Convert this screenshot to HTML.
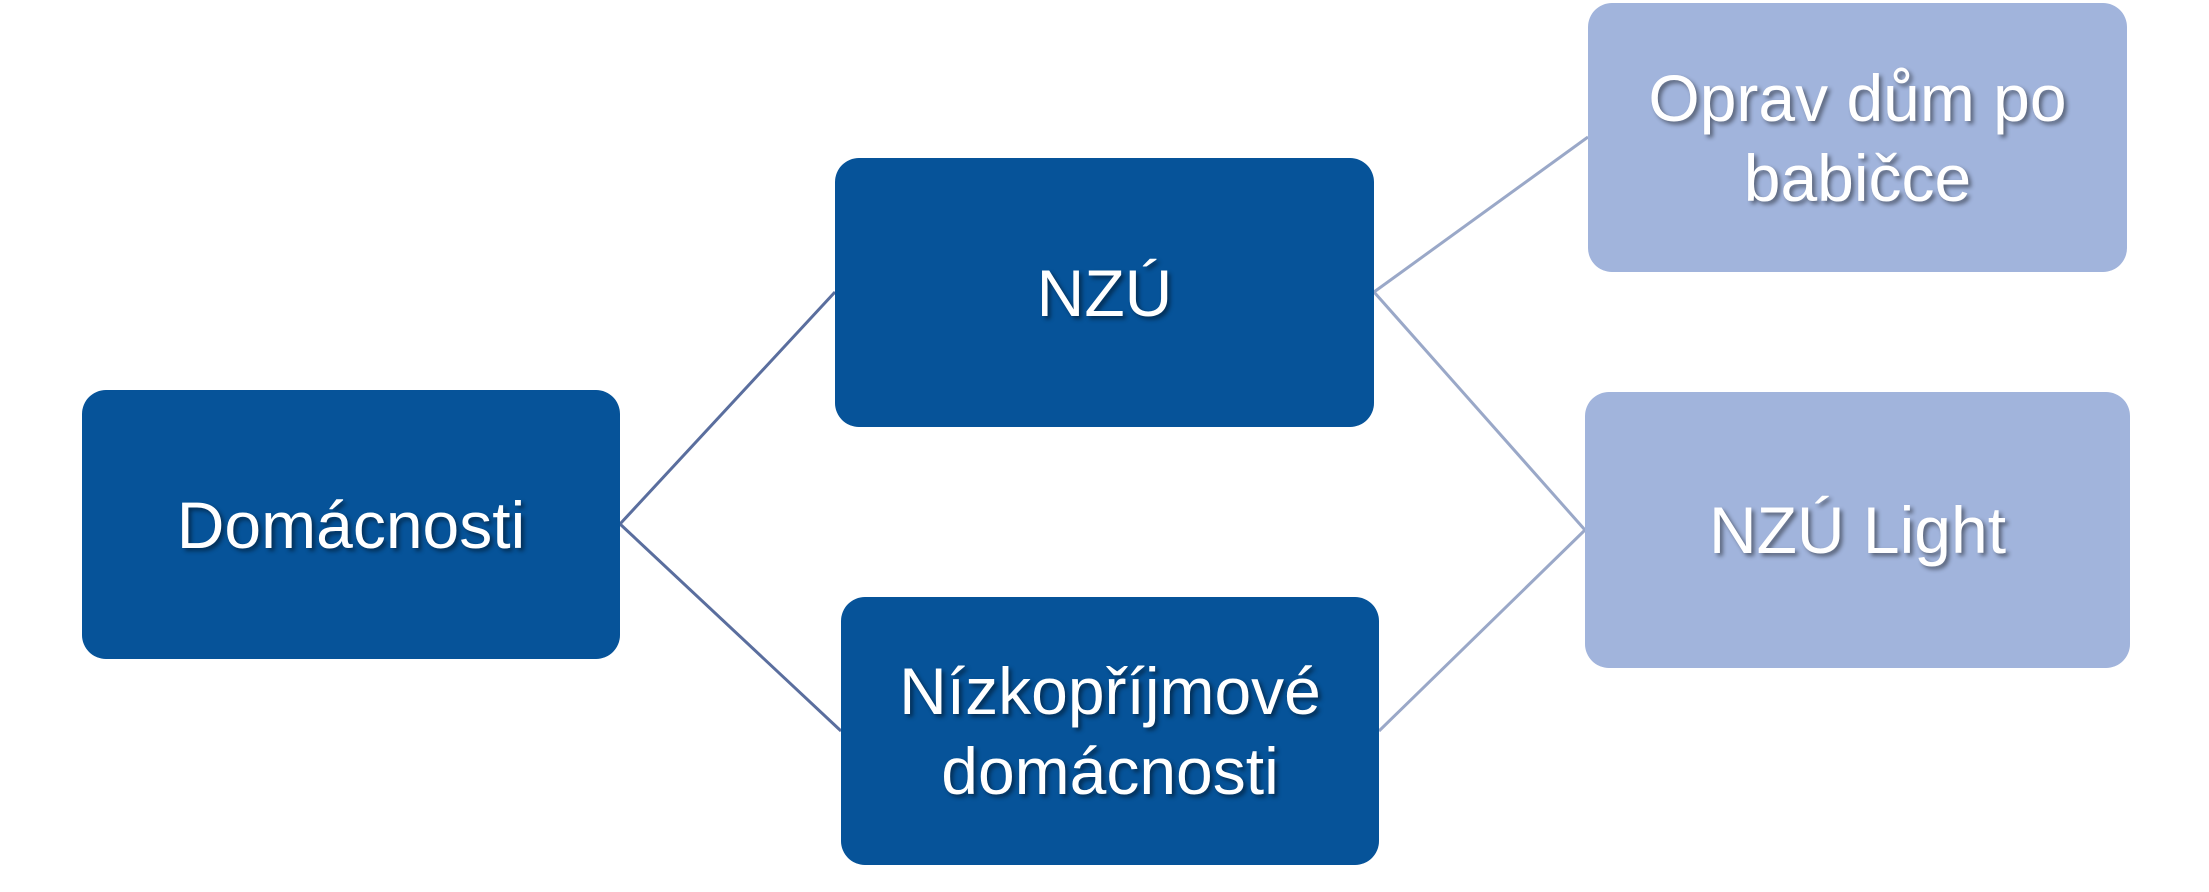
<!DOCTYPE html>
<html><head><meta charset="utf-8"><style>
body{margin:0;width:2209px;height:892px;background:#fff;position:relative;overflow:hidden;font-family:"Liberation Sans",sans-serif;}
.b{position:absolute;border-radius:24px;display:flex;align-items:center;justify-content:center;text-align:center;color:#fff;font-size:66px;line-height:80px;text-shadow:3px 3px 4px rgba(0,0,0,0.45);}
.d{background:#065399}
.l{background:#a1b4dc}
svg{position:absolute;left:0;top:0}
</style></head><body>
<svg width="2209" height="892">
<g stroke-width="3">
<line x1="620" y1="524" x2="835" y2="292" stroke="#5a6e9e"/>
<line x1="620" y1="524" x2="841" y2="731" stroke="#5a6e9e"/>
<line x1="1374" y1="292" x2="1588" y2="137" stroke="#9aa8c8"/>
<line x1="1374" y1="292" x2="1585" y2="530" stroke="#9aa8c8"/>
<line x1="1379" y1="731" x2="1585" y2="530" stroke="#9aa8c8"/>
</g></svg>
<div class="b d" style="left:82px;top:390px;width:538px;height:269px">Domácnosti</div>
<div class="b d" style="left:835px;top:158px;width:539px;height:269px">NZÚ</div>
<div class="b d" style="left:841px;top:597px;width:538px;height:268px">Nízkopříjmové<br>domácnosti</div>
<div class="b l" style="left:1588px;top:3px;width:539px;height:269px">Oprav dům po<br>babičce</div>
<div class="b l" style="left:1585px;top:392px;width:545px;height:276px">NZÚ Light</div>
</body></html>
